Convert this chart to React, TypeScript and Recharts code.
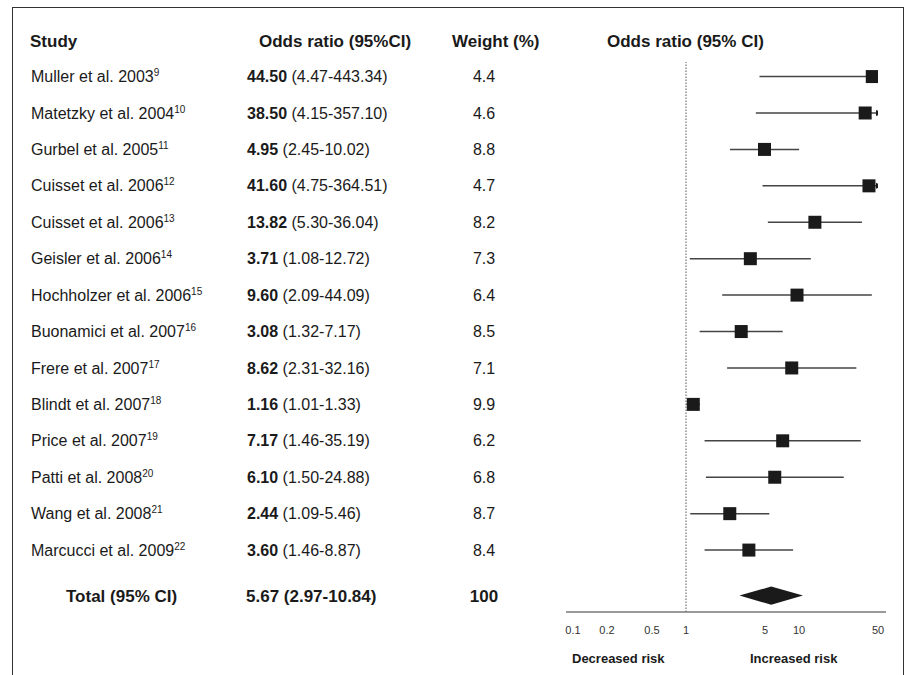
import React from 'react';
import {
  ComposedChart,
  Scatter,
  XAxis,
  YAxis,
  ReferenceLine,
  ReferenceArea,
} from 'recharts';

const studies = [
  'Muller et al. 2003',
  'Matetzky et al. 2004',
  'Gurbel et al. 2005',
  'Cuisset et al. 2006',
  'Cuisset et al. 2006',
  'Geisler et al. 2006',
  'Hochholzer et al. 2006',
  'Buonamici et al. 2007',
  'Frere et al. 2007',
  'Blindt et al. 2007',
  'Price et al. 2007',
  'Patti et al. 2008',
  'Wang et al. 2008',
  'Marcucci et al. 2009',
];
const refs = ['9', '10', '11', '12', '13', '14', '15', '16', '17', '18', '19', '20', '21', '22'];
const oddsRatio = [44.5, 38.5, 4.95, 41.6, 13.82, 3.71, 9.6, 3.08, 8.62, 1.16, 7.17, 6.1, 2.44, 3.6];
const ciLow = [4.47, 4.15, 2.45, 4.75, 5.3, 1.08, 2.09, 1.32, 2.31, 1.01, 1.46, 1.5, 1.09, 1.46];
const ciHigh = [443.34, 357.1, 10.02, 364.51, 36.04, 12.72, 44.09, 7.17, 32.16, 1.33, 35.19, 24.88, 5.46, 8.87];
const weights = [4.4, 4.6, 8.8, 4.7, 8.2, 7.3, 6.4, 8.5, 7.1, 9.9, 6.2, 6.8, 8.7, 8.4];

const totalOR = 5.67;
const totalLow = 2.97;
const totalHigh = 10.84;
const totalWeight = 100;

const xTicks = [0.1, 0.2, 0.5, 1, 5, 10, 50];
const xMin = 0.1;
const xMax = 50;

const TOTAL_ROW = 14.25;
const FONT = '"Liberation Sans", Arial, Helvetica, sans-serif';
const INK = '#1a1a1a';

const rows = studies.map((s, i) => ({ row: i, x: oddsRatio[i] }));
const arrows = studies
  .map((s, i) => ({ row: i, x: xMax, over: ciHigh[i] > xMax }))
  .filter((d) => d.over);
const rowTicks = [...studies.map((s, i) => i), TOTAL_ROW];

const RowTick = (props: any) => {
  const { y, payload } = props;
  const v = payload.value;
  if (v === TOTAL_ROW) {
    return (
      <g fontFamily={FONT} fill={INK} fontWeight="bold" fontSize={17}>
        <text x={66} y={y} dy="0.35em">Total (95% CI)</text>
        <text x={246} y={y} dy="0.35em">
          {`${totalOR.toFixed(2)} (${totalLow.toFixed(2)}-${totalHigh.toFixed(2)})`}
        </text>
        <text x={484} y={y} dy="0.35em" textAnchor="middle">{totalWeight}</text>
      </g>
    );
  }
  const i = v as number;
  return (
    <g fontFamily={FONT} fill={INK} fontSize={16}>
      <text x={31} y={y} dy="0.35em">
        {studies[i]}
        <tspan fontSize={10} dy={-6}>{refs[i]}</tspan>
      </text>
      <text x={247} y={y} dy="0.35em">
        <tspan fontWeight="bold">{oddsRatio[i].toFixed(2)}</tspan>
        <tspan>{` (${ciLow[i].toFixed(2)}-${ciHigh[i].toFixed(2)})`}</tspan>
      </text>
      <text x={484} y={y} dy="0.35em" textAnchor="middle">{weights[i].toFixed(1)}</text>
    </g>
  );
};

const Square = (props: any) => {
  const { cx, cy } = props;
  const s = 13;
  return <rect x={cx - s / 2} y={cy - s / 2} width={s} height={s} fill={INK} />;
};

const Arrow = (props: any) => {
  const { cx, cy } = props;
  return <polygon points={`${cx - 2},${cy - 3} ${cx + 5},${cy} ${cx - 2},${cy + 3}`} fill={INK} />;
};

const Diamond = (props: any) => {
  const { x, y, width, height } = props;
  const cy = y + height / 2;
  return (
    <polygon
      points={`${x},${cy} ${x + width / 2},${y} ${x + width},${cy} ${x + width / 2},${y + height}`}
      fill={INK}
    />
  );
};

const label = (text: string, left: number, top: number, size: number) => (
  <div
    style={{
      position: 'absolute',
      left,
      top,
      transform: 'translateY(-50%)',
      fontFamily: FONT,
      fontWeight: 'bold',
      fontSize: size,
      color: INK,
      whiteSpace: 'nowrap',
    }}
  >
    {text}
  </div>
);

export default function App() {
  return (
    <div
      style={{
        position: 'absolute',
        left: 0,
        top: 0,
        width: 906,
        height: 675,
        overflow: 'hidden',
        background: '#fff',
      }}
    >
      <div
        style={{
          position: 'absolute',
          left: 12,
          top: 7,
          width: 890,
          height: 720,
          border: '1.5px solid #333',
          borderBottom: 'none',
        }}
      />
      {label('Study', 30, 42, 17)}
      {label('Odds ratio (95%CI)', 259, 42, 17)}
      {label('Weight (%)', 452, 42, 17)}
      {label('Odds ratio (95% CI)', 607, 42, 17)}
      {label('Decreased risk', 572, 658, 13)}
      {label('Increased risk', 750, 658, 13)}
      <div style={{ position: 'absolute', left: 0, top: 0 }}>
        <ComposedChart width={906} height={675} margin={{ top: 62, right: 20, bottom: 33, left: 0 }}>
          <XAxis
            type="number"
            dataKey="x"
            scale="log"
            domain={[xMin, xMax]}
            ticks={xTicks}
            allowDataOverflow
            padding={{ left: 7, right: 8 }}
            tickLine={false}
            tickMargin={8}
            height={30}
            interval={0}
            axisLine={{ stroke: '#777', strokeWidth: 1.5 }}
            tick={{ fontSize: 11, fill: '#333', fontFamily: FONT }}
          />
          <YAxis
            type="number"
            dataKey="row"
            domain={[-0.4, 14.7]}
            reversed
            allowDataOverflow
            ticks={rowTicks}
            interval={0}
            width={566}
            axisLine={false}
            tickLine={false}
            tick={<RowTick />}
          />
          <ReferenceLine x={1} stroke="#555" strokeDasharray="1.5 1.5" strokeWidth={1} />
          {studies.map((s, i) => (
            <ReferenceLine
              key={`ci-${i}`}
              segment={[
                { x: ciLow[i], y: i },
                { x: Math.min(ciHigh[i], xMax), y: i },
              ]}
              stroke="#444"
              strokeWidth={1.5}
            />
          ))}
          <ReferenceArea
            x1={totalLow}
            x2={totalHigh}
            y1={TOTAL_ROW - 0.25}
            y2={TOTAL_ROW + 0.25}
            shape={<Diamond />}
          />
          <Scatter data={rows} shape={<Square />} isAnimationActive={false} />
          <Scatter data={arrows} shape={<Arrow />} isAnimationActive={false} />
        </ComposedChart>
      </div>
    </div>
  );
}
